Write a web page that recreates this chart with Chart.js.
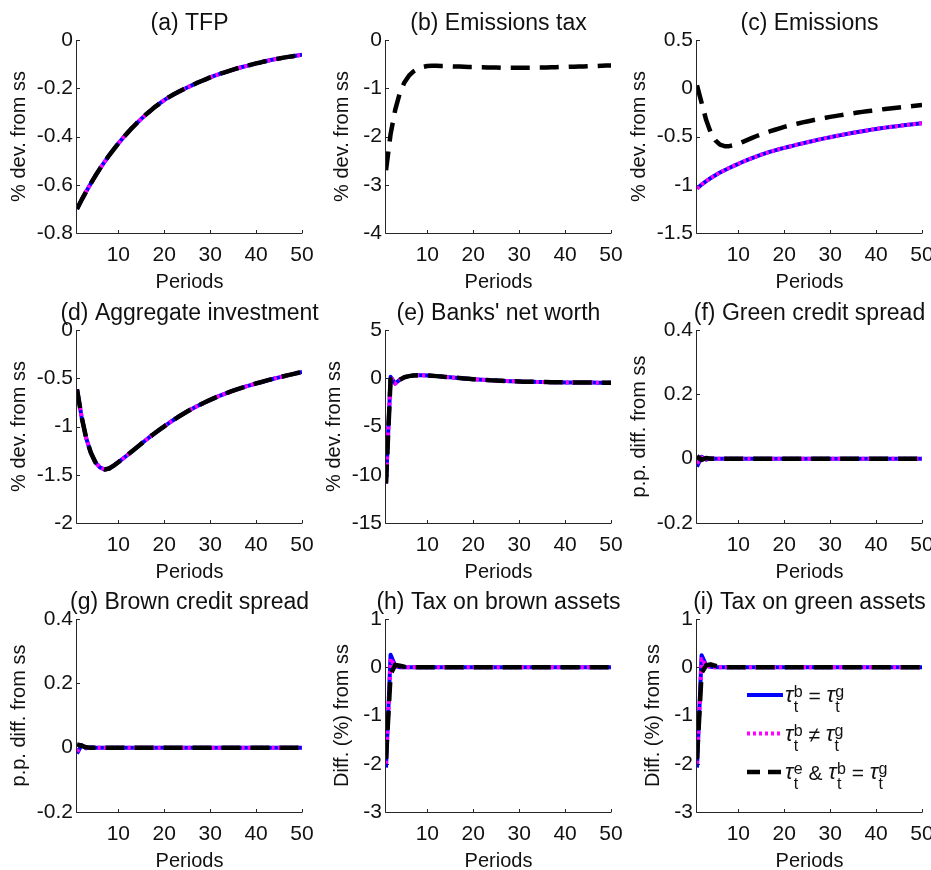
<!DOCTYPE html>
<html><head><meta charset="utf-8">
<script src="https://cdn.jsdelivr.net/npm/chart.js@4.4.1/dist/chart.umd.min.js"></script>
<style>
html,body{margin:0;padding:0;background:#fff;width:931px;height:870px;overflow:hidden;position:relative}
canvas{position:absolute}
</style></head><body>
<script>
const FONT = "'Liberation Sans', Arial, Helvetica, sans-serif";
Chart.defaults.font.family = FONT;
Chart.defaults.color = '#111';

// ---- data ----
const periods = [1,2,3,4,5,6,7,8,9,10,11,12,13,14,15,16,17,18,19,20,21,22,23,24,25,26,27,28,29,30,31,32,33,34,35,36,37,38,39,40,41,42,43,44,45,46,47,48,49,50];
const xTicks = [10,20,30,40,50];

const tfp = [-0.700,-0.663,-0.628,-0.595,-0.563,-0.533,-0.505,-0.478,-0.453,-0.429,
 -0.406,-0.385,-0.364,-0.345,-0.327,-0.309,-0.293,-0.277,-0.263,-0.249,
 -0.237,-0.226,-0.216,-0.206,-0.197,-0.188,-0.179,-0.171,-0.163,-0.155,
 -0.148,-0.141,-0.135,-0.129,-0.123,-0.117,-0.112,-0.107,-0.102,-0.097,
 -0.093,-0.088,-0.084,-0.080,-0.077,-0.073,-0.070,-0.067,-0.064,-0.061];

const emTaxBlack = [-2.70,-1.95,-1.45,-1.10,-0.88,-0.74,-0.65,-0.59,-0.56,-0.54,
 -0.535,-0.535,-0.54,-0.54,-0.545,-0.55,-0.55,-0.555,-0.56,-0.56,
 -0.565,-0.565,-0.57,-0.57,-0.57,-0.575,-0.575,-0.575,-0.575,-0.575,
 -0.575,-0.575,-0.575,-0.57,-0.57,-0.57,-0.565,-0.565,-0.56,-0.56,
 -0.555,-0.555,-0.55,-0.55,-0.545,-0.54,-0.54,-0.535,-0.53,-0.53];

const emissions = [-1.040,-0.998,-0.962,-0.930,-0.901,-0.874,-0.849,-0.826,-0.804,-0.783,
 -0.762,-0.742,-0.723,-0.705,-0.688,-0.672,-0.657,-0.643,-0.630,-0.618,
 -0.606,-0.594,-0.582,-0.571,-0.560,-0.549,-0.538,-0.527,-0.517,-0.507,
 -0.497,-0.488,-0.479,-0.470,-0.461,-0.453,-0.445,-0.437,-0.429,-0.422,
 -0.415,-0.408,-0.402,-0.396,-0.390,-0.384,-0.378,-0.372,-0.367,-0.362];
const emissionsBlack = [0.03,-0.15,-0.33,-0.46,-0.54,-0.585,-0.60,-0.60,-0.59,-0.575,
 -0.555,-0.535,-0.515,-0.495,-0.477,-0.46,-0.445,-0.43,-0.415,-0.40,
 -0.388,-0.376,-0.365,-0.354,-0.344,-0.334,-0.324,-0.315,-0.306,-0.297,
 -0.289,-0.281,-0.273,-0.266,-0.259,-0.252,-0.245,-0.239,-0.233,-0.227,
 -0.221,-0.215,-0.209,-0.204,-0.199,-0.194,-0.189,-0.184,-0.179,-0.174];

const investment = [-0.615,-0.90,-1.12,-1.27,-1.37,-1.425,-1.445,-1.435,-1.405,-1.37,
 -1.333,-1.295,-1.256,-1.217,-1.178,-1.14,-1.103,-1.067,-1.032,-0.998,
 -0.965,-0.933,-0.902,-0.873,-0.845,-0.818,-0.793,-0.769,-0.746,-0.724,
 -0.703,-0.683,-0.664,-0.646,-0.629,-0.613,-0.597,-0.582,-0.568,-0.554,
 -0.541,-0.528,-0.515,-0.503,-0.491,-0.479,-0.468,-0.457,-0.446,-0.435];

const netWorth = [-10.9,0.15,-0.55,-0.15,0.1,0.22,0.28,0.3,0.3,0.28,
 0.25,0.22,0.18,0.14,0.1,0.06,0.02,-0.02,-0.06,-0.1,
 -0.13,-0.16,-0.19,-0.22,-0.24,-0.26,-0.28,-0.3,-0.32,-0.33,
 -0.35,-0.36,-0.37,-0.38,-0.39,-0.4,-0.41,-0.42,-0.42,-0.43,
 -0.43,-0.44,-0.44,-0.45,-0.45,-0.45,-0.46,-0.46,-0.46,-0.46];
const netWorthBlack = [-10.9,-0.1,-0.5,-0.15,0.1,0.22,0.28,0.3,0.3,0.28,
 0.25,0.22,0.18,0.14,0.1,0.06,0.02,-0.02,-0.06,-0.1,
 -0.13,-0.16,-0.19,-0.22,-0.24,-0.26,-0.28,-0.3,-0.32,-0.33,
 -0.35,-0.36,-0.37,-0.38,-0.39,-0.4,-0.41,-0.42,-0.42,-0.43,
 -0.43,-0.44,-0.44,-0.45,-0.45,-0.45,-0.46,-0.46,-0.46,-0.46];

const greenSpreadBlue = [-0.025,0.006,-0.003,0.001,0,0,0,0,0,0, 0,0,0,0,0,0,0,0,0,0, 0,0,0,0,0,0,0,0,0,0, 0,0,0,0,0,0,0,0,0,0, 0,0,0,0,0,0,0,0,0,0];
const greenSpreadMag = [-0.015,0.004,-0.002,0.001,0,0,0,0,0,0, 0,0,0,0,0,0,0,0,0,0, 0,0,0,0,0,0,0,0,0,0, 0,0,0,0,0,0,0,0,0,0, 0,0,0,0,0,0,0,0,0,0];
const greenSpreadBlack = [0.008,-0.004,0.002,0,0,0,0,0,0,0, 0,0,0,0,0,0,0,0,0,0, 0,0,0,0,0,0,0,0,0,0, 0,0,0,0,0,0,0,0,0,0, 0,0,0,0,0,0,0,0,0,0];

const brownSpreadBlue = [-0.018,0.008,-0.002,0.001,0,0,0,0,0,0, 0,0,0,0,0,0,0,0,0,0, 0,0,0,0,0,0,0,0,0,0, 0,0,0,0,0,0,0,0,0,0, 0,0,0,0,0,0,0,0,0,0];
const brownSpreadMag = [-0.012,0.006,-0.001,0,0,0,0,0,0,0, 0,0,0,0,0,0,0,0,0,0, 0,0,0,0,0,0,0,0,0,0, 0,0,0,0,0,0,0,0,0,0, 0,0,0,0,0,0,0,0,0,0];
const brownSpreadBlack = [0.01,0.006,0.001,0,0,0,0,0,0,0, 0,0,0,0,0,0,0,0,0,0, 0,0,0,0,0,0,0,0,0,0, 0,0,0,0,0,0,0,0,0,0, 0,0,0,0,0,0,0,0,0,0];

const brownTaxBlue = [-2.08,0.26,0.03,0,0,0,0,0,0,0, 0,0,0,0,0,0,0,0,0,0, 0,0,0,0,0,0,0,0,0,0, 0,0,0,0,0,0,0,0,0,0, 0,0,0,0,0,0,0,0,0,0];
const brownTaxMag = [-2.0,0.18,0.02,0,0,0,0,0,0,0, 0,0,0,0,0,0,0,0,0,0, 0,0,0,0,0,0,0,0,0,0, 0,0,0,0,0,0,0,0,0,0, 0,0,0,0,0,0,0,0,0,0];
const brownTaxBlack = [-1.9,-0.15,0.05,0.03,0.01,0,0,0,0,0, 0,0,0,0,0,0,0,0,0,0, 0,0,0,0,0,0,0,0,0,0, 0,0,0,0,0,0,0,0,0,0, 0,0,0,0,0,0,0,0,0,0];

const greenTaxBlue = [-2.08,0.25,0.04,0.01,0,0,0,0,0,0, 0,0,0,0,0,0,0,0,0,0, 0,0,0,0,0,0,0,0,0,0, 0,0,0,0,0,0,0,0,0,0, 0,0,0,0,0,0,0,0,0,0];
const greenTaxMag = [-2.0,0.17,0.03,0,0,0,0,0,0,0, 0,0,0,0,0,0,0,0,0,0, 0,0,0,0,0,0,0,0,0,0, 0,0,0,0,0,0,0,0,0,0, 0,0,0,0,0,0,0,0,0,0];
const greenTaxBlack = [-1.9,-0.12,0.04,0.06,0.03,0.01,0,0,0,0, 0,0,0,0,0,0,0,0,0,0, 0,0,0,0,0,0,0,0,0,0, 0,0,0,0,0,0,0,0,0,0, 0,0,0,0,0,0,0,0,0,0];

const yTicksA = [0,-0.2,-0.4,-0.6,-0.8];
const yTicksB = [0,-1,-2,-3,-4];
const yTicksC = [0.5,0,-0.5,-1,-1.5];
const yTicksD = [0,-0.5,-1,-1.5,-2];
const yTicksE = [5,0,-5,-10,-15];
const yTicksSpread = [0.4,0.2,0,-0.2];
const yTicksTax = [1,0,-1,-2,-3];

const legendLabels = [
  [['τ','b','t'],' = ',['τ','g','t']],
  [['τ','b','t'],' ≠ ',['τ','g','t']],
  [['τ','e','t'],' & ',['τ','b','t'],' = ',['τ','g','t']]
];

// ---- styling / layout ----
const BLUE='#0000ff', MAG='#ff00ff', BLACK='#000000';
const DASH_BLACK=[19,10], DASH_MAG=[3,3];
const plotLefts=[77,386,697], plotTops=[40,330,619];
const PW=225, PH=193, LEFTW=77, TOPH=40, BOTH=57, RIGHTW=77;

const panels = [
 {title:'(a) TFP', ylabel:'% dev. from ss', yTicks:yTicksA, blue:tfp, magenta:tfp, black:tfp, col:0,row:0, yOff:58},
 {title:'(b) Emissions tax', ylabel:'% dev. from ss', yTicks:yTicksB, black:emTaxBlack, col:1,row:0, yOff:44},
 {title:'(c) Emissions', ylabel:'% dev. from ss', yTicks:yTicksC, blue:emissions, magenta:emissions, black:emissionsBlack, col:2,row:0, yOff:58},
 {title:'(d) Aggregate investment', ylabel:'% dev. from ss', yTicks:yTicksD, blue:investment, magenta:investment, black:investment, col:0,row:1, yOff:58},
 {title:"(e) Banks' net worth", ylabel:'% dev. from ss', yTicks:yTicksE, blue:netWorth, magenta:netWorth, black:netWorthBlack, col:1,row:1, yOff:52},
 {title:'(f) Green credit spread', ylabel:'p.p. diff. from ss', yTicks:yTicksSpread, blue:greenSpreadBlue, magenta:greenSpreadMag, black:greenSpreadBlack, col:2,row:1, yOff:58},
 {title:'(g) Brown credit spread', ylabel:'p.p. diff. from ss', yTicks:yTicksSpread, blue:brownSpreadBlue, magenta:brownSpreadMag, black:brownSpreadBlack, col:0,row:2, yOff:58},
 {title:'(h) Tax on brown assets', ylabel:'Diff. (%) from ss', yTicks:yTicksTax, blue:brownTaxBlue, magenta:brownTaxMag, black:brownTaxBlack, col:1,row:2, yOff:44},
 {title:'(i) Tax on green assets', ylabel:'Diff. (%) from ss', yTicks:yTicksTax, blue:greenTaxBlue, magenta:greenTaxMag, black:greenTaxBlack, col:2,row:2, yOff:44, legend:true}
];

const axesPlugin = {
  id:'matAxes',
  beforeDatasetsDraw(chart){
    const {ctx, chartArea:a, scales:{x,y}} = chart;
    ctx.save();
    ctx.strokeStyle='#262626'; ctx.lineWidth=1; ctx.setLineDash([]);
    const L=Math.round(a.left)-0.5, B=Math.round(a.bottom)+0.5;
    ctx.beginPath(); ctx.moveTo(L,a.top); ctx.lineTo(L,B); ctx.lineTo(a.right,B); ctx.stroke();
    ctx.beginPath();
    y.ticks.forEach(t=>{ const py=Math.round(y.getPixelForValue(t.value))+0.5; ctx.moveTo(L,py); ctx.lineTo(L+3.5,py); });
    x.ticks.forEach(t=>{ const px=Math.round(x.getPixelForValue(t.value))+0.5; ctx.moveTo(px,B); ctx.lineTo(px,B-3.5); });
    ctx.stroke();
    ctx.restore();
  }
};

const legendPlugin = {
  id:'texLegend',
  afterDatasetsDraw(chart){
    if(!chart.options.plugins.texLegend || !chart.options.plugins.texLegend.show) return;
    const {ctx, chartArea:a} = chart;
    const styles=[{c:BLUE,d:[],w:4},{c:MAG,d:DASH_MAG,w:4},{c:BLACK,d:[13,8],w:4.5}];
    legendLabels.forEach((parts,k)=>{
      const y=a.top+76+k*38.5;
      const s=styles[k];
      ctx.save();
      ctx.strokeStyle=s.c; ctx.lineWidth=s.w; ctx.setLineDash(s.d); ctx.lineCap='butt';
      ctx.beginPath(); ctx.moveTo(a.left+50,y); ctx.lineTo(a.left+86,y); ctx.stroke();
      ctx.restore();
      ctx.save();
      ctx.fillStyle='#111'; ctx.textBaseline='alphabetic'; ctx.textAlign='left';
      let x=a.left+88;
      parts.forEach(pt=>{
        if(typeof pt==='string'){
          ctx.font='21px '+FONT; ctx.fillText(pt,x,y+8); x+=ctx.measureText(pt).width;
        } else {
          ctx.font='italic 22px '+FONT; ctx.fillText(pt[0],x,y+7); x+=ctx.measureText(pt[0]).width+0.5;
          ctx.font='16px '+FONT;
          ctx.fillText(pt[1],x,y+2); const w1=ctx.measureText(pt[1]).width;
          ctx.fillText(pt[2],x,y+17); const w2=ctx.measureText(pt[2]).width;
          x+=Math.max(w1,w2);
        }
      });
      ctx.restore();
    });
  }
};

function makeSet(vals,color,dash,width){
  return {data:periods.map((p,i)=>({x:p,y:vals[i]})), borderColor:color, borderWidth:width,
    borderDash:dash, pointRadius:0, pointHoverRadius:0, tension:0, fill:false,
    borderJoinStyle:'round', borderCapStyle:'butt'};
}

panels.forEach(p=>{
  const cv=document.createElement('canvas');
  cv.width=LEFTW+PW+RIGHTW; cv.height=TOPH+PH+BOTH;
  cv.style.left=(plotLefts[p.col]-LEFTW)+'px';
  cv.style.top=(plotTops[p.row]-TOPH)+'px';
  document.body.appendChild(cv);
  const datasets=[];
  if(p.black) datasets.push(makeSet(p.black,BLACK,DASH_BLACK,4.5));
  if(p.magenta) datasets.push(makeSet(p.magenta,MAG,DASH_MAG,4));
  if(p.blue) datasets.push(makeSet(p.blue,BLUE,[],4));
  const yt=p.yTicks;
  new Chart(cv,{
    type:'line',
    data:{datasets},
    plugins:[axesPlugin, legendPlugin],
    options:{
      responsive:false, animation:false, events:[],
      layout:{padding:0},
      plugins:{
        legend:{display:false}, tooltip:{enabled:false},
        texLegend:{show:!!p.legend},
        title:{display:true, text:p.title, fullSize:true, color:'#111',
          font:{size:23, weight:'normal', family:FONT, lineHeight:1.2}, padding:{top:9.4,bottom:3}}
      },
      scales:{
        x:{type:'linear', min:1, max:50,
          grid:{display:false, drawTicks:false}, border:{display:false},
          afterBuildTicks:s=>{ s.ticks=xTicks.map(v=>({value:v})); },
          ticks:{padding:10, font:{size:21}, color:'#111', maxRotation:0, minRotation:0, autoSkip:false, callback:v=>String(v)},
          title:{display:true, text:'Periods', color:'#111', font:{size:20}, padding:{top:0,bottom:-4}},
          afterFit:s=>{ s.height=BOTH; s.paddingLeft=0; s.paddingRight=0; }
        },
        y:{type:'linear', position:'left', min:yt[yt.length-1], max:yt[0],
          grid:{display:false, drawTicks:false}, border:{display:false},
          afterBuildTicks:s=>{ s.ticks=yt.map(v=>({value:v})); },
          ticks:{padding:4, font:{size:21}, color:'#111', autoSkip:false, callback:v=>String(v)},
          title:{display:true, text:p.ylabel, color:'#111', font:{size:20}, padding:{top:LEFTW-p.yOff-12,bottom:0}},
          afterFit:s=>{ s.width=LEFTW; s.paddingTop=0; s.paddingBottom=0; }
        },
        yRight:{type:'linear', position:'right', min:0, max:1, display:true,
          grid:{display:false, drawTicks:false}, border:{display:false},
          ticks:{display:false}, title:{display:false},
          afterFit:s=>{ s.width=RIGHTW; s.paddingTop=0; s.paddingBottom=0; }
        }
      }
    }
  });
});
</script>
</body></html>
